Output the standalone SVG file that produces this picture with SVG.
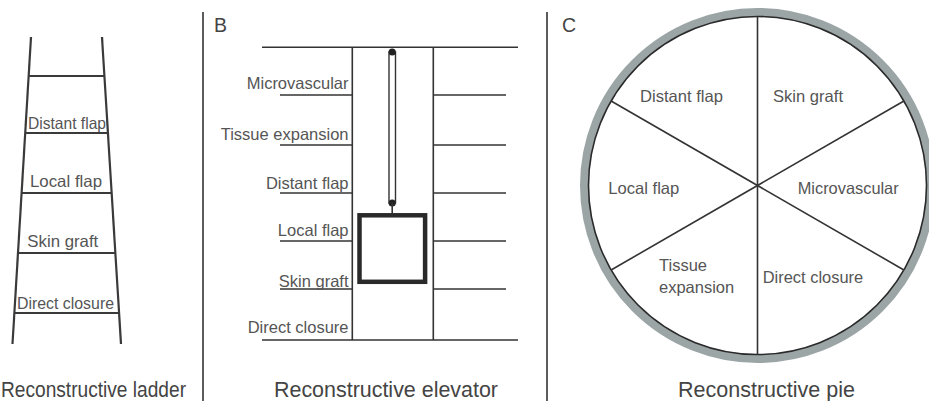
<svg xmlns="http://www.w3.org/2000/svg" width="929" height="401" viewBox="0 0 929 401">
<style>
  .ln { stroke: #333; stroke-width: 1.6; fill: none; stroke-linecap: butt; }
  .rail { stroke: #3a3a3a; stroke-width: 2.2; fill: none; }
  .lbl { font-family: "Liberation Sans", Arial, sans-serif; font-size: 16.5px; fill: #555; }
  .cap { font-family: "Liberation Sans", Arial, sans-serif; font-size: 21.5px; fill: #444; }
  .let { font-family: "Liberation Sans", Arial, sans-serif; font-size: 19.5px; fill: #444; }
</style>
<rect width="929" height="401" fill="#fff"/>

<g id="separators">
  <line class="ln" x1="203" y1="12" x2="203" y2="401"/>
  <line class="ln" x1="547" y1="12" x2="547" y2="401"/>
</g>

<g id="panel-a">
  <g id="ladder-rails">
    <line class="rail" x1="31" y1="37" x2="12.5" y2="344"/>
    <line class="rail" x1="102" y1="37" x2="121" y2="344"/>
  </g>
  <g id="ladder-rungs">
    <line class="rail" x1="28.6" y1="76" x2="104.4" y2="76"/>
    <line class="rail" x1="25.2" y1="133" x2="107.9" y2="133"/>
    <line class="rail" x1="21.6" y1="193" x2="111.7" y2="193"/>
    <line class="rail" x1="18" y1="253" x2="115.4" y2="253"/>
    <line class="rail" x1="14.4" y1="313" x2="119.1" y2="313"/>
  </g>
  <g id="ladder-distant-flap"><text class="lbl" x="28" y="129" textLength="78" lengthAdjust="spacingAndGlyphs">Distant flap</text></g>
  <g id="ladder-local-flap"><text class="lbl" x="30" y="187" textLength="72" lengthAdjust="spacingAndGlyphs">Local flap</text></g>
  <g id="ladder-skin-graft"><text class="lbl" x="27.3" y="246.5" textLength="71" lengthAdjust="spacingAndGlyphs">Skin graft</text></g>
  <g id="ladder-direct-closure"><text class="lbl" x="17" y="309" textLength="97" lengthAdjust="spacingAndGlyphs">Direct closure</text></g>
  <text class="cap" x="1" y="397" textLength="185" lengthAdjust="spacingAndGlyphs">Reconstructive ladder</text>
</g>

<g id="panel-b">
  <text class="let" x="214" y="32">B</text>
  <g id="elevator-frame">
    <line class="ln" x1="262" y1="47.3" x2="518" y2="47.3"/>
    <line class="ln" x1="262" y1="340" x2="518" y2="340"/>
    <line class="ln" x1="352.3" y1="47.3" x2="352.3" y2="340"/>
    <line class="ln" x1="433.3" y1="47.3" x2="433.3" y2="340"/>
  </g>
  <g id="elevator-floors">
    <line class="ln" x1="280" y1="95" x2="352.3" y2="95"/>
    <line class="ln" x1="280" y1="145" x2="352.3" y2="145"/>
    <line class="ln" x1="280" y1="193" x2="352.3" y2="193"/>
    <line class="ln" x1="280" y1="241" x2="352.3" y2="241"/>
    <line class="ln" x1="280" y1="289" x2="352.3" y2="289"/>
    <line class="ln" x1="433.3" y1="95" x2="506" y2="95"/>
    <line class="ln" x1="433.3" y1="145" x2="506" y2="145"/>
    <line class="ln" x1="433.3" y1="193" x2="506" y2="193"/>
    <line class="ln" x1="433.3" y1="241" x2="506" y2="241"/>
    <line class="ln" x1="433.3" y1="289" x2="506" y2="289"/>
  </g>
  <g id="elevator-rod">
    <rect x="389" y="52" width="6.5" height="151" fill="#fff" stroke="#333" stroke-width="1.4"/>
    <circle cx="392.2" cy="52" r="3.6" fill="#222"/>
    <circle cx="392.2" cy="203" r="3.6" fill="#222"/>
    <line class="ln" x1="392.2" y1="203" x2="392.2" y2="214"/>
  </g>
  <g id="elevator-car">
    <rect x="359.5" y="215.3" width="65.6" height="66.5" fill="#fff" stroke="#2a2a2a" stroke-width="4.5"/>
  </g>
  <g id="elev-microvascular"><text class="lbl" x="348.5" y="89" text-anchor="end">Microvascular</text></g>
  <g id="elev-tissue-expansion"><text class="lbl" x="348.5" y="140" text-anchor="end">Tissue expansion</text></g>
  <g id="elev-distant-flap"><text class="lbl" x="348.5" y="189" text-anchor="end">Distant flap</text></g>
  <g id="elev-local-flap"><text class="lbl" x="348.5" y="235.5" text-anchor="end">Local flap</text></g>
  <g id="elev-skin-graft"><text class="lbl" x="348.5" y="287" text-anchor="end">Skin graft</text></g>
  <g id="elev-direct-closure"><text class="lbl" x="348.5" y="333" text-anchor="end">Direct closure</text></g>
  <text class="cap" x="274" y="397" textLength="224" lengthAdjust="spacingAndGlyphs">Reconstructive elevator</text>
</g>

<g id="panel-c">
  <text class="let" x="562" y="32">C</text>
  <g id="pie">
    <circle cx="757.5" cy="185.5" r="173.2" fill="none" stroke="#9ba5a5" stroke-width="8.6"/>
    <circle cx="757.5" cy="185.5" r="169" fill="none" stroke="#2a2a2a" stroke-width="1.6"/>
    <line class="ln" x1="757.5" y1="16.5" x2="757.5" y2="354.5"/>
    <line class="ln" x1="611.1" y1="101" x2="903.9" y2="270"/>
    <line class="ln" x1="611.1" y1="270" x2="903.9" y2="101"/>
  </g>
  <g id="pie-distant-flap"><text class="lbl" x="640" y="101.5" textLength="83" lengthAdjust="spacingAndGlyphs">Distant flap</text></g>
  <g id="pie-skin-graft"><text class="lbl" x="773" y="101.5" textLength="70" lengthAdjust="spacingAndGlyphs">Skin graft</text></g>
  <g id="pie-local-flap"><text class="lbl" x="608.3" y="194" textLength="71" lengthAdjust="spacingAndGlyphs">Local flap</text></g>
  <g id="pie-microvascular"><text class="lbl" x="797.7" y="194" textLength="101" lengthAdjust="spacingAndGlyphs">Microvascular</text></g>
  <g id="pie-tissue-expansion">
    <text class="lbl" x="659" y="271">Tissue</text>
    <text class="lbl" x="659" y="292.5">expansion</text>
  </g>
  <g id="pie-direct-closure"><text class="lbl" x="762.7" y="283" textLength="100.5" lengthAdjust="spacingAndGlyphs">Direct closure</text></g>
  <text class="cap" x="678" y="397" textLength="177" lengthAdjust="spacingAndGlyphs">Reconstructive pie</text>
</g>
</svg>
